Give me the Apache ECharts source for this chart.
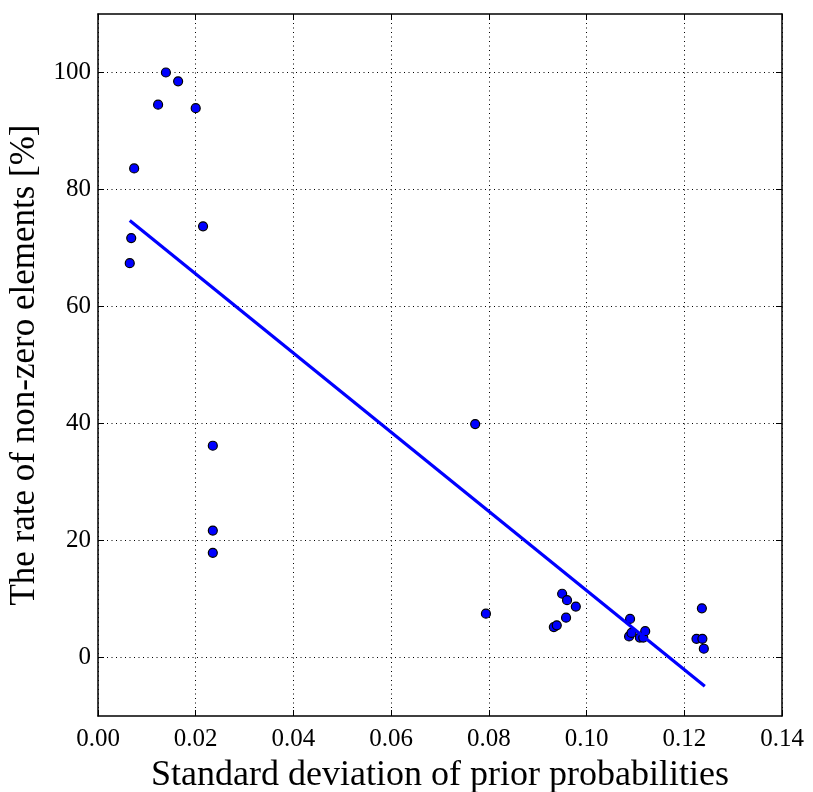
<!DOCTYPE html>
<html><head><meta charset="utf-8">
<script src="https://cdn.jsdelivr.net/npm/echarts@6/dist/echarts.min.js"></script>
<style>html,body{margin:0;padding:0;background:#fff}#c{width:813px;height:792px}</style>
</head><body><div id="c"></div>
<script>
const stdDev = [0.0139,0.0164,0.0123,0.0200,0.0074,0.0068,0.0065,0.0215,0.0235,0.0235,0.0235,
  0.0772,0.0794,0.0950,0.0960,0.0978,0.0958,0.0933,0.0939,
  0.1089,0.1087,0.1092,0.1109,0.1116,0.1120,0.1236,0.1225,0.1237,0.1240];
const nonZeroRate = [100,98.5,94.5,93.9,83.6,71.7,67.4,73.7,36.2,21.7,17.9,
  39.9,7.5,10.9,9.8,8.7,6.8,5.2,5.5,
  6.6,3.6,4.2,3.4,3.4,4.5,8.4,3.2,3.2,1.5];
const fitX = [0.0065,0.1242];
const fitY = [74.7,-4.9];
const xTicks = [0,0.02,0.04,0.06,0.08,0.10,0.12,0.14];
const yTicks = [0,20,40,60,80,100];

const font = "Liberation Serif";
const chart = echarts.init(document.getElementById('c'));
const axisLine = {show:true,onZero:false,lineStyle:{color:'#000',width:1.5}};
const tickIn = {show:true,inside:true,length:6,lineStyle:{color:'#000',width:1}};
const split = {show:true,lineStyle:{color:'#000',type:[1,3.5],width:1}};
chart.setOption({
  animation:false,
  grid:{left:98,right:31,top:14,bottom:76,containLabel:false,outerBoundsMode:'none'},
  xAxis:[{
    type:'value',min:0,max:0.14,interval:0.02,position:'bottom',
    name:'Standard deviation of prior probabilities',nameLocation:'middle',nameGap:42,
    nameTextStyle:{fontFamily:font,fontSize:36,color:'#000'},
    axisLine:axisLine,axisTick:tickIn,splitLine:split,
    axisLabel:{fontFamily:font,fontSize:25,color:'#000',margin:11,formatter:v=>v.toFixed(2)}
  },{
    type:'value',min:0,max:0.14,interval:0.02,position:'top',
    axisLine:axisLine,axisTick:tickIn,splitLine:{show:false},axisLabel:{show:false}
  }],
  yAxis:[{
    type:'value',min:-10,max:110,position:'left',
    name:'The rate of non-zero elements [%]',nameLocation:'middle',nameGap:55,
    nameTextStyle:{fontFamily:font,fontSize:35,color:'#000'},
    axisLine:axisLine,
    axisTick:Object.assign({customValues:yTicks},tickIn),
    splitLine:split,
    axisLabel:{customValues:yTicks,fontFamily:font,fontSize:25,color:'#000',margin:7}
  },{
    type:'value',min:-10,max:110,position:'right',
    axisLine:axisLine,axisTick:Object.assign({customValues:yTicks},tickIn),
    splitLine:{show:false},axisLabel:{show:false}
  }],
  series:[{
    type:'scatter',
    data:stdDev.map((x,i)=>[x,nonZeroRate[i]]),
    symbolSize:9,
    itemStyle:{color:'#0000ff',borderColor:'#000',borderWidth:1.2,opacity:1},
    z:3
  },{
    type:'line',
    data:fitX.map((x,i)=>[x,fitY[i]]),
    showSymbol:false,symbol:'none',
    lineStyle:{color:'#0000ff',width:3.2},
    z:4
  }]
});
</script>
</body></html>
